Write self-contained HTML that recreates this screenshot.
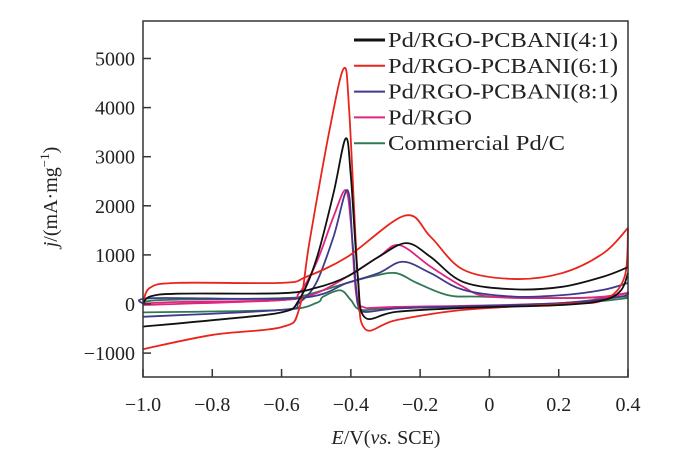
<!DOCTYPE html>
<html><head><meta charset="utf-8"><style>
body{margin:0;background:#fff}
svg text{font-family:"Liberation Serif",serif;fill:#222}
</style></head><body>
<svg id="chart" width="686" height="463">
<g id="plot"></g>
</svg>
<script>
const xTicks=[-1.0,-0.8,-0.6,-0.4,-0.2,0,0.2,0.4];
const xTickLabels=["\u22121.0","\u22120.8","\u22120.6","\u22120.4","\u22120.2","0","0.2","0.4"];
const yTicks=[-1000,0,1000,2000,3000,4000,5000];
const yTickLabels=["\u22121000","0","1000","2000","3000","4000","5000"];
const seriesNames=["Pd/RGO-PCBANI(4:1)","Pd/RGO-PCBANI(6:1)","Pd/RGO-PCBANI(8:1)","Pd/RGO","Commercial Pd/C"];
const seriesColors=["#111","#e8241c","#3f3a8a","#e0257f","#2f7a55"];
const black4Upper=[[-1,0],[-0.98,150],[-0.9,210],[-0.6,220],[-0.5,330],[-0.41,560],[-0.32,960],[-0.24,1240],[-0.17,960],[-0.076,450],[0.07,300],[0.21,350],[0.33,560],[0.4,750]];
const black4Lower=[[-1,-460],[-0.8,-330],[-0.6,-170],[-0.55,80],[-0.5,900],[-0.45,2260],[-0.415,3370],[-0.4,2600],[-0.38,560],[-0.36,-270],[-0.27,-160],[-0.076,-80],[0.21,-20],[0.33,80],[0.38,280],[0.4,630]];
const red6Upper=[[-1,0],[-0.98,330],[-0.9,430],[-0.6,430],[-0.53,550],[-0.41,960],[-0.244,1800],[-0.17,1370],[-0.076,700],[0.068,510],[0.21,630],[0.33,1040],[0.4,1550]];
const red6Lower=[[-1,-920],[-0.8,-630],[-0.6,-470],[-0.55,-120],[-0.52,1240],[-0.46,3600],[-0.42,4800],[-0.405,3960],[-0.38,550],[-0.36,-500],[-0.27,-330],[-0.076,-120],[0.21,0],[0.33,80],[0.39,550],[0.4,1550]];
const blue8Upper=[[-1,0],[-0.97,120],[-0.55,120],[-0.41,430],[-0.32,630],[-0.25,860],[-0.17,630],[-0.076,290],[0.07,150],[0.21,180],[0.33,290],[0.4,430]];
const blue8Lower=[[-1,-260],[-0.6,-120],[-0.55,20],[-0.5,430],[-0.45,1370],[-0.41,2320],[-0.395,1240],[-0.38,20],[-0.36,-160],[-0.27,-90],[-0.076,-50],[0.21,20],[0.38,150],[0.4,250]];
const rgoUpper=[[-1,10],[-0.9,40],[-0.6,80],[-0.5,220],[-0.41,560],[-0.32,960],[-0.26,1200],[-0.17,760],[-0.076,350],[0.0,150],[0.21,120],[0.33,150],[0.4,230]];
const rgoLower=[[-1,-20],[-0.6,80],[-0.55,220],[-0.5,830],[-0.45,1780],[-0.415,2320],[-0.4,1650],[-0.385,220],[-0.365,-60],[-0.27,-60],[0.21,20],[0.4,220]];
const pdcUpper=[[-1,0],[-0.95,80],[-0.6,120],[-0.53,180],[-0.41,430],[-0.34,560],[-0.27,630],[-0.21,430],[-0.12,180],[-0.03,150],[0.21,120],[0.4,150]];
const pdcLower=[[-1,-170],[-0.6,-120],[-0.5,20],[-0.48,150],[-0.43,280],[-0.4,80],[-0.37,-120],[-0.27,-80],[0.21,0],[0.4,120]];
const seriesData=[[black4Upper,black4Lower],[red6Upper,red6Lower],[blue8Upper,blue8Lower],[rgoUpper,rgoLower],[pdcUpper,pdcLower]];

const L=143,R=628,T=21,B=377;
const X=v=>L+(v+1)/1.4*(R-L);
const Y=v=>304-v*0.0491;
const NS="http://www.w3.org/2000/svg";
const svg=document.getElementById('chart');
function mk(tag,at,parent){const e=document.createElementNS(NS,tag);for(const k in at)e.setAttribute(k,at[k]);(parent||svg).appendChild(e);return e;}
function path(pts){
  const p=pts.map(q=>[X(q[0]),Y(q[1])]);
  let d="M"+p[0][0]+","+p[0][1];
  for(let i=0;i<p.length-1;i++){
    const p0=p[i-1]||p[i],p1=p[i],p2=p[i+1],p3=p[i+2]||p2;
    const c1=[p1[0]+(p2[0]-p0[0])/6,p1[1]+(p2[1]-p0[1])/6];
    const c2=[p2[0]-(p3[0]-p1[0])/6,p2[1]-(p3[1]-p1[1])/6];
    d+=`C${c1[0]},${c1[1]} ${c2[0]},${c2[1]} ${p2[0]},${p2[1]}`;
  }
  return d;
}
const plot=document.getElementById('plot');
for(let s=seriesData.length-1;s>=0;s--){
  seriesData[s].forEach((br,j)=>{
    const e=mk('path',{d:path(br),fill:'none',stroke:seriesColors[s],'stroke-width':1.8},plot);
    
    
  });
}
const fr=mk('rect',{x:L,y:T,width:R-L,height:B-T,fill:'none',stroke:'#333','stroke-width':1.5});


xTicks.forEach((v,i)=>{
  const t=mk('line',{x1:X(v),x2:X(v),y1:B,y2:B-8,stroke:'#333','stroke-width':1.5});
  
  
  const lb=mk('text',{x:X(v),y:411,'text-anchor':'middle','font-size':20});
  lb.textContent=xTickLabels[i];
  
  
});
yTicks.forEach((v,i)=>{
  const t=mk('line',{x1:L,x2:L+8,y1:Y(v),y2:Y(v),stroke:'#333','stroke-width':1.5});
  
  
  const lb=mk('text',{x:135,y:Y(v)+7,'text-anchor':'end','font-size':20});
  lb.textContent=yTickLabels[i];
  
  
});
const legendWidths=[230,230,230,84,177];
seriesNames.forEach((n,i)=>{
  const y=40+i*25.8;
  const ln=mk('line',{x1:354,x2:385,y1:y,y2:y,stroke:seriesColors[i],'stroke-width':i==0?3:2});
  
  
  const tx=mk('text',{x:388,y:y+7,'font-size':21,textLength:legendWidths[i],lengthAdjust:'spacingAndGlyphs'});
  tx.textContent=n;
  
  
});
</script>
<svg style="position:absolute;left:0;top:0" width="686" height="463">
<text x="386" y="444" text-anchor="middle" font-size="20"><tspan font-style="italic">E</tspan>/V(<tspan font-style="italic">vs.</tspan> SCE)</text>
<text transform="translate(57,197) rotate(-90)" text-anchor="middle" font-size="20"><tspan font-style="italic">j</tspan>/(mA·mg<tspan font-size="13" dy="-8">−1</tspan><tspan dy="8">)</tspan></text>
</svg>
</body></html>
